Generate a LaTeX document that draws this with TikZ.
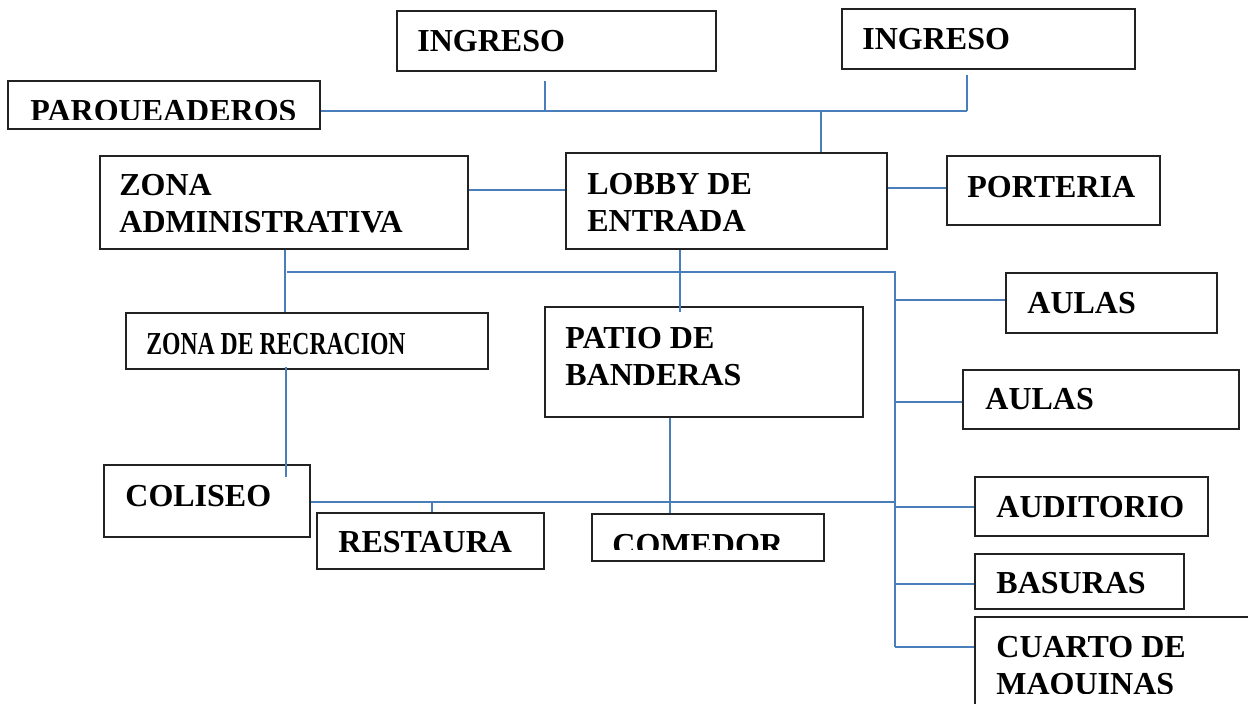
\documentclass[tikz,border=0pt]{standalone}
\usepackage{fontspec}
\setmainfont{Liberation Serif}
\newfontfamily\condfont[FakeStretch=0.74]{Liberation Serif}
\usetikzlibrary{fit}
\definecolor{connblue}{HTML}{4A7EBB}
\definecolor{boxline}{HTML}{222222}
\tikzset{
  box/.style={draw=boxline, line width=0.75pt, inner sep=0pt, rectangle},
  lbl/.style={inner sep=0pt, anchor=base west, align=left,
    font=\bfseries\fontsize{16pt}{18.25pt}\selectfont},
  conn/.style={draw=connblue, line width=1pt}
}
\begin{document}
\begin{tikzpicture}[x=0.5pt,y=-0.5pt]
\useasboundingbox (0,0) rectangle (1248,703);
\fill[white] (0,0) rectangle (1248,703);
\clip (0,0) rectangle (1248,703);
% boxes
\node[box, fit={(397,11) (716,71)}] (ingA) {};
\node[box, line width=1pt, fit={(842,9) (1135,69)}] (ingB) {};
\node[box, fit={(8,81) (320,129)}] (parq) {};
\node[box, fit={(100,156) (468,249)}] (zadm) {};
\node[box, fit={(566,153) (887,249)}] (lobby) {};
\node[box, fit={(947,156) (1160,225)}] (port) {};
\node[box, fit={(126,313) (488,369)}] (zrec) {};
\node[box, fit={(545,307) (863,417)}] (patio) {};
\node[box, fit={(104,465) (310,537)}] (colis) {};
\node[box, fit={(317,513) (544,569)}] (rest) {};
\node[box, fit={(592,514) (824,561)}] (comed) {};
\node[box, fit={(1006,273) (1217,333)}] (aulA) {};
\node[box, fit={(963,370) (1239,429)}] (aulB) {};
\node[box, fit={(975,477) (1208,536)}] (audit) {};
\node[box, fit={(975,554) (1184,609)}] (basur) {};
\node[box, fit={(975,617) (1262,720)}] (cuart) {};
% texts
\node[lbl] (ingA-t) at (417,51) {INGRESO};
\node[lbl] (ingB-t) at (862,49) {INGRESO};
\begin{scope}
\clip (0,0) rectangle (1248,119);
\node[lbl] (parq-t) at (30,121) {PARQUEADEROS};
\end{scope}
\node[lbl] (zadm-t) at (119,232) {ZONA\\ADMINISTRATIVA};
\node[lbl] (lobby-t) at (587,231) {LOBBY DE\\ENTRADA};
\node[lbl] (port-t) at (967,197) {PORTERIA};
\node[lbl, font=\condfont\bfseries\fontsize{16pt}{18.25pt}\selectfont] (zrec-t) at (146,354) {ZONA DE RECRACION};
\node[lbl] (patio-t) at (565,385) {PATIO DE\\BANDERAS};
\node[lbl] (colis-t) at (125,506) {COLISEO};
\node[lbl] (rest-t) at (338,552) {RESTAURA};
\begin{scope}
\clip (0,0) rectangle (1248,549);
\node[lbl] (comed-t) at (612,555) {COMEDOR};
\end{scope}
\node[lbl] (aulA-t) at (1027,313) {AULAS};
\node[lbl] (aulB-t) at (985,409) {AULAS};
\node[lbl] (audit-t) at (996,517) {AUDITORIO};
\node[lbl] (basur-t) at (996,593) {BASURAS};
\begin{scope}
\clip (0,0) rectangle (1248,693);
\node[lbl] (cuart-t) at (996,694) {CUARTO DE\\MAQUINAS};
\end{scope}
% junction coordinates
\coordinate (topL) at (parq.east |- 0,111);
\coordinate (topR) at (967,111);
\coordinate (stubA) at (545,81);
\coordinate (stubB) at (967,75);
\coordinate (jA) at (545,111);
\coordinate (jL) at (821,111);
\coordinate (midL) at (287,272);
\coordinate (spTop) at (895,272);
\coordinate (spBot) at (895,647);
\coordinate (lowR) at (895,502);
\coordinate (jR) at (432,502);
% connectors
\draw[conn] (topL) -- (topR);
\draw[conn] (stubA) -- (jA);
\draw[conn] (stubB) -- (topR);
\draw[conn] (jL) -- (lobby.north -| jL);
\draw[conn] (zadm.east |- 0,190) -- (lobby.west |- 0,190);
\draw[conn] (lobby.east |- 0,188) -- (port.west |- 0,188);
\draw[conn] (lobby.south -| 680,0) -- (680,312);
\draw[conn] (zadm.south -| 285,0) -- (285,312);
\draw[conn] (midL) -- (spTop) -- (spBot);
\draw[conn] (286,367) -- (286,477);
\draw[conn] (colis.east |- lowR) -- (lowR);
\draw[conn] (jR) -- (rest.north -| jR);
\draw[conn] (patio.south -| 670,0) -- (comed.north -| 670,0);
\draw[conn] (895,300) -- (aulA.west |- 0,300);
\draw[conn] (895,402) -- (aulB.west |- 0,402);
\draw[conn] (895,507) -- (audit.west |- 0,507);
\draw[conn] (895,584) -- (basur.west |- 0,584);
\draw[conn] (spBot) -- (cuart.west |- spBot);
\end{tikzpicture}
\end{document}
